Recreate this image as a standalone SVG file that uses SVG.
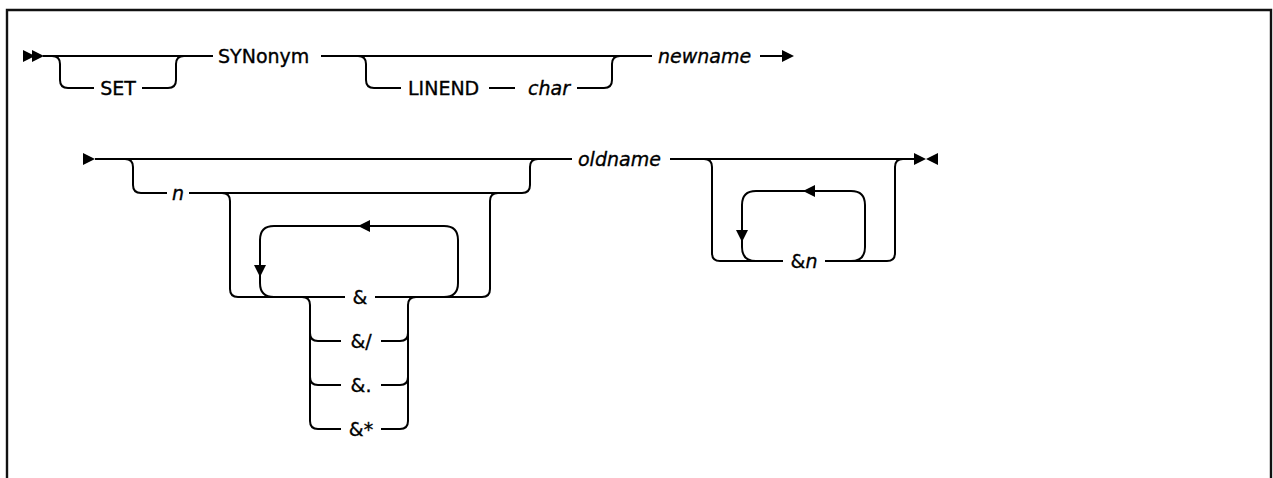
<svg xmlns="http://www.w3.org/2000/svg" xmlns:xlink="http://www.w3.org/1999/xlink" width="1273" height="478" viewBox="0 0 1273 478">
<style>
.ln{fill:none;stroke:#000;stroke-width:2}
.fr{fill:none;stroke:#111;stroke-width:2.4}
.ah{fill:#000;stroke:none}
.t{font-family:"DejaVu Sans","Liberation Sans",Arial,sans-serif;font-size:19px;fill:#000;stroke:#000;stroke-width:0.35}
.i{font-style:italic}
</style>
<defs>
<path id="aR" d="M-6,-6 L6,0 L-6,6 Z"/>
<path id="aL" d="M6,-6 L-6,0 L6,6 Z"/>
<path id="aD" d="M-6,-6 L6,-6 L0,6 Z"/>
</defs>
<rect width="1273" height="478" fill="#fff"/>
<path class="fr" d="M7,478 V10 H1271 V478"/>
<g id="connectors">
<!-- row 1 -->
<use href="#aR" class="ah" x="29" y="56"/>
<use href="#aR" class="ah" x="38" y="56"/>
<path class="ln" d="M43,56 H213 M321,56 H652 M760,56 H784"/>
<use href="#aR" class="ah" x="788" y="56"/>
<path class="ln" d="M52,56 Q60,56 60,64 V80 Q60,88 68,88 H94 M142,88 H168 Q176,88 176,80 V64 Q176,56 184,56"/>
<path class="ln" d="M358,56 Q366,56 366,64 V80 Q366,88 374,88 H401 M489,88 H515 M577,88 H604 Q612,88 612,80 V64 Q612,56 620,56"/>
<!-- row 2 -->
<use href="#aR" class="ah" x="89" y="159"/>
<path class="ln" d="M95,159 H572 M670,159 H915"/>
<use href="#aR" class="ah" x="920" y="159"/>
<use href="#aL" class="ah" x="932" y="159"/>
<path class="ln" d="M125,159 Q133,159 133,167 V185 Q133,193 141,193 H167 M189,193 H522 Q530,193 530,185 V167 Q530,159 538,159"/>
<path class="ln" d="M222,193 Q230,193 230,201 V289 Q230,297 238,297 H345 M375,297 H482 Q490,297 490,289 V201 Q490,193 498,193"/>
<path class="ln" d="M444,297 Q458,297 458,283 V240 Q458,226 444,226 H274 Q260,226 260,240 V283 Q260,297 274,297"/>
<use href="#aL" class="ah" x="364" y="226"/>
<use href="#aD" class="ah" x="260" y="271"/>
<path class="ln" d="M302,297 Q310,297 310,305 V421 Q310,429 318,429 H341 M381,429 H400 Q408,429 408,421 V305 Q408,297 416,297"/>
<path class="ln" d="M310,333 Q310,341 318,341 H341 M381,341 H400 Q408,341 408,333"/>
<path class="ln" d="M310,377 Q310,385 318,385 H341 M381,385 H400 Q408,385 408,377"/>
<path class="ln" d="M704,159 Q712,159 712,167 V253 Q712,261 720,261 H783 M825,261 H887 Q895,261 895,253 V167 Q895,159 903,159"/>
<path class="ln" d="M851,261 Q865,261 865,247 V205 Q865,191 851,191 H756 Q742,191 742,205 V247 Q742,261 756,261"/>
<use href="#aL" class="ah" x="809" y="191"/>
<use href="#aD" class="ah" x="742" y="236"/>
</g>
<g id="n-set"><text class="t" x="118" y="95" text-anchor="middle">SET</text></g>
<g id="n-synonym"><text class="t" x="218" y="63">SYNonym</text></g>
<g id="n-linend"><text class="t" x="408" y="95">LINEND</text></g>
<g id="n-char"><text class="t i" x="528" y="95">char</text></g>
<g id="n-newname"><text class="t i" x="658" y="63">newname</text></g>
<g id="n-n"><text class="t i" x="178" y="200" text-anchor="middle">n</text></g>
<g id="n-oldname"><text class="t i" x="578" y="166">oldname</text></g>
<g id="n-amp"><text class="t" x="360" y="304" text-anchor="middle">&amp;</text></g>
<g id="n-ampslash"><text class="t" x="361" y="348" text-anchor="middle">&amp;/</text></g>
<g id="n-ampdot"><text class="t" x="361" y="392" text-anchor="middle">&amp;.</text></g>
<g id="n-ampstar"><text class="t" x="361" y="436" text-anchor="middle">&amp;*</text></g>
<g id="n-ampn"><text class="t" x="804" y="268" text-anchor="middle">&amp;<tspan class="i">n</tspan></text></g>
</svg>
